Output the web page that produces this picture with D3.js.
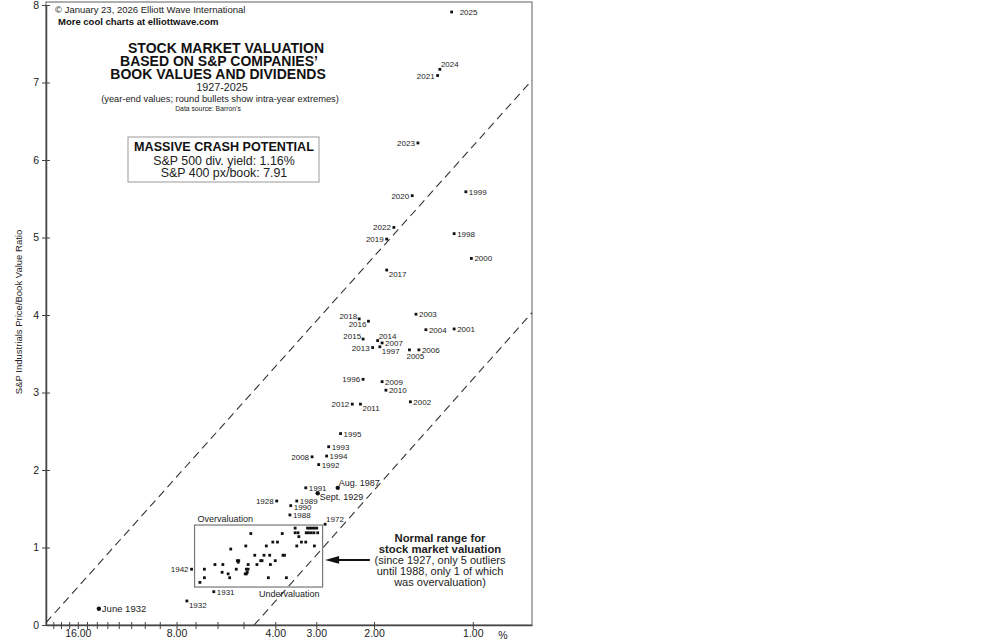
<!DOCTYPE html>
<html>
<head>
    <meta charset="utf-8" />
    <title>Stock Market Valuation</title>
    <style>
        body { margin: 0; background: #fff; }
        #valuation_chart { width: 991px; height: 643px; }
        svg text { font-family: "Liberation Sans", Arial, sans-serif; }
    </style>
</head>
<body>
    <div id="valuation_chart"></div>
    <script type="text/javascript" src="https://cdnjs.cloudflare.com/ajax/libs/d3/7.8.5/d3.min.js"></script>
    <script>
        // labelled points (year-end values; three intra-year extremes drawn as round bullets)
        var pointLabels = ["2025", "2024", "2021", "2023", "2020", "1999", "2022", "2019", "1998", "2000",
            "2017", "2018", "2016", "2003", "2004", "2001", "2015", "2014", "2007", "2013",
            "1997", "2005", "2006", "1996", "2009", "2010", "2012", "2011", "2002", "1995",
            "1993", "1994", "2008", "1992", "1991", "Aug. 1987", "Sept. 1929", "1928", "1989", "1990",
            "1988", "1972", "1942", "1932", "1931", "June 1932"]
        var pointYields = [1.16, 1.26, 1.28, 1.47, 1.53, 1.05, 1.74, 1.83, 1.14, 1.01,
            1.83, 2.22, 2.08, 1.49, 1.39, 1.14, 2.16, 1.95, 1.89, 2.02,
            1.92, 1.56, 1.46, 2.16, 1.89, 1.84, 2.33, 2.20, 1.55, 2.53,
            2.75, 2.79, 3.09, 2.95, 3.23, 2.58, 2.97, 3.96, 3.44, 3.59,
            3.61, 2.82, 7.20, 7.44, 6.16, 13.8]
        var pointRatios = [7.91, 7.17, 7.09, 6.22, 5.54, 5.59, 5.13, 4.98, 5.05, 4.73,
            4.58, 3.95, 3.92, 4.01, 3.81, 3.82, 3.69, 3.67, 3.64, 3.58,
            3.59, 3.55, 3.55, 3.17, 3.14, 3.03, 2.85, 2.85, 2.88, 2.47,
            2.30, 2.18, 2.17, 2.07, 1.77, 1.77, 1.70, 1.60, 1.60, 1.54,
            1.42, 1.30, 0.72, 0.31, 0.43, 0.21]
        var intraYear = ["Aug. 1987", "Sept. 1929", "June 1932"]

        // unlabelled year-end values inside the normal range box
        var boxYields = [3.48, 3.19, 3.14, 3.09, 3.04, 2.99, 3.48, 3.41, 3.22, 3.17, 3.11, 3.05, 2.97,
            4.75, 3.81, 3.39, 4.07, 3.94, 3.33, 3.23, 4.92, 4.26, 3.44, 3.04, 5.47,
            4.62, 4.33, 4.16, 3.79, 3.75, 5.22, 5.17, 4.43, 4.39, 4.00, 5.19,
            6.11, 5.78, 4.84, 4.55, 4.14, 6.58, 5.26, 4.90, 4.84, 5.81, 4.87, 4.90,
            5.57, 4.94, 6.58, 5.51, 4.20, 3.70, 6.79]
        var boxRatios = [1.25, 1.25, 1.25, 1.25, 1.25, 1.25, 1.19, 1.19, 1.19, 1.19, 1.19, 1.19, 1.19,
            1.18, 1.18, 1.14, 1.07, 1.07, 1.07, 1.07, 1.02, 1.02, 1.02, 1.02, 0.98,
            0.90, 0.90, 0.90, 0.90, 0.90, 0.83, 0.83, 0.83, 0.83, 0.83, 0.81,
            0.78, 0.78, 0.78, 0.78, 0.78, 0.72, 0.72, 0.72, 0.72, 0.68, 0.68, 0.66,
            0.66, 0.66, 0.61, 0.61, 0.61, 0.61, 0.55]

        // dashed guides, [yield, ratio] end points
        var upperGuide = [[20, 0.03], [0.66, 7.03]]
        var lowerGuide = [[4.64, 0], [0.66, 4.03]]

        // normal range box and arrow, in data units
        var normalYields = [7.05, 2.87]
        var normalRatios = [0.49, 1.29]
        var arrowYields = [2.06, 2.82]
        var arrowRatio = 0.84

        var xTickValues = d3.range(1, 20)
        var xTickLabels = [16, 8, 4, 3, 2, 1]
        var yTickValues = [0, 1, 2, 3, 4, 5, 6, 7, 8]

        // label placement around each dot
        var labelSide = {
            "2025": "r2", "2021": "l", "2023": "l", "2020": "l", "2022": "l", "2019": "l",
            "2017": "rb", "2018": "la", "2016": "lb", "2015": "la", "2014": "ra", "2013": "l",
            "1997": "rb", "2005": "b", "1996": "l", "2012": "l", "2011": "rb", "2008": "l",
            "Aug. 1987": "ra", "Sept. 1929": "rb", "1928": "l", "1990": "rs", "1972": "ra",
            "1942": "l", "1932": "rb", "2024": "ra"
        }
        var sides = {
            r: { dx: 3, dy: 3, anchor: "start" },
            r2: { dx: 8, dy: 3, anchor: "start" },
            rs: { dx: 3, dy: 4.5, anchor: "start" },
            l: { dx: -3, dy: 3, anchor: "end" },
            ra: { dx: 1, dy: -2, anchor: "start" },
            rb: { dx: 2, dy: 7, anchor: "start" },
            la: { dx: -2, dy: 0, anchor: "end" },
            lb: { dx: -2, dy: 6, anchor: "end" },
            b: { dx: -3, dy: 9, anchor: "start" }
        }

        var width = 991, height = 643
        var svg = d3.select("#valuation_chart")
            .append("svg")
            .attr("width", width)
            .attr("height", height)

        var x = d3.scaleLog().domain([20, 0.66]).range([46, 532])
        var y = d3.scaleLinear().domain([0, 8]).range([625, 5])

        // frame
        svg.append("rect")
            .attr("x", x(20)).attr("y", 2)
            .attr("width", x(0.66) - x(20)).attr("height", y(0) - 2)
            .attr("fill", "none").attr("stroke", "#7a7a7a").attr("stroke-width", 1.2)

        // axes
        var xAxis = d3.axisBottom(x)
            .tickValues(xTickValues)
            .tickSizeInner(0).tickSizeOuter(0)
            .tickFormat(function (d) { return xTickLabels.indexOf(d) >= 0 ? d3.format(".2f")(d) : "" })
        var gx = svg.append("g").attr("transform", "translate(0," + y(0) + ")").call(xAxis)
        gx.select(".domain").attr("stroke", "#444").attr("stroke-width", 1.5)
        gx.selectAll(".tick line").attr("y1", -3).attr("y2", 4).attr("stroke", "#444")
        gx.selectAll(".tick text").attr("y", 5).attr("font-size", "10.5px").attr("fill", "#222")
        svg.append("text").attr("x", 503).attr("y", 638.5)
            .attr("text-anchor", "middle").attr("font-size", "10.5px").attr("fill", "#222").text("%")

        var yAxis = d3.axisLeft(y)
            .tickValues(yTickValues)
            .tickSizeInner(0).tickSizeOuter(0).tickPadding(7)
            .tickFormat(d3.format("d"))
        var gy = svg.append("g").attr("transform", "translate(" + x(20) + ",0)").call(yAxis)
        gy.select(".domain").attr("stroke", "#444").attr("stroke-width", 1.5)
        gy.selectAll(".tick line").attr("x1", -4).attr("x2", 4).attr("stroke", "#444")
        gy.selectAll(".tick text").attr("font-size", "10.5px").attr("fill", "#222")

        svg.append("text")
            .attr("transform", "translate(22," + 312 + ") rotate(-90)")
            .attr("text-anchor", "middle").attr("font-size", "9.5px").attr("fill", "#222")
            .text("S&P Industrials Price/Book Value Ratio")

        // dashed guides
        var line = d3.line().x(function (d) { return x(d[0]) }).y(function (d) { return y(d[1]) })
        svg.selectAll(".guide")
            .data([upperGuide, lowerGuide])
            .enter().append("path")
            .attr("class", "guide")
            .attr("d", line)
            .attr("fill", "none").attr("stroke", "#333").attr("stroke-width", 1.1)
            .attr("stroke-dasharray", "8,5")

        // normal range box
        svg.append("rect")
            .attr("x", x(normalYields[0])).attr("y", y(normalRatios[1]))
            .attr("width", x(normalYields[1]) - x(normalYields[0]))
            .attr("height", y(normalRatios[0]) - y(normalRatios[1]))
            .attr("fill", "none").attr("stroke", "#777").attr("stroke-width", 1.2)
        svg.append("text")
            .attr("x", x(normalYields[0]) + 3).attr("y", y(normalRatios[1]) - 3)
            .attr("font-size", "9px").attr("fill", "#222").text("Overvaluation")
        svg.append("text")
            .attr("x", x(normalYields[1]) - 3).attr("y", y(normalRatios[0]) + 10)
            .attr("text-anchor", "end").attr("font-size", "9px").attr("fill", "#222").text("Undervaluation")

        // points inside box
        svg.append("g").selectAll("rect")
            .data(d3.zip(boxYields, boxRatios))
            .enter().append("rect")
            .attr("x", function (d) { return x(d[0]) - 1.4 })
            .attr("y", function (d) { return y(d[1]) - 1.4 })
            .attr("width", 2.8).attr("height", 2.8)
            .attr("fill", "#111")

        // labelled points
        var points = pointLabels.map(function (label, i) {
            return { label: label, yield: pointYields[i], ratio: pointRatios[i] }
        })
        var pg = svg.append("g")
        pg.selectAll("rect")
            .data(points.filter(function (d) { return intraYear.indexOf(d.label) < 0 }))
            .enter().append("rect")
            .attr("x", function (d) { return x(d.yield) - 1.4 })
            .attr("y", function (d) { return y(d.ratio) - 1.4 })
            .attr("width", 2.8).attr("height", 2.8)
            .attr("fill", "#111")
        pg.selectAll("circle")
            .data(points.filter(function (d) { return intraYear.indexOf(d.label) >= 0 }))
            .enter().append("circle")
            .attr("cx", function (d) { return x(d.yield) })
            .attr("cy", function (d) { return y(d.ratio) })
            .attr("r", 2.2)
            .attr("fill", "#111")
        pg.selectAll("text")
            .data(points)
            .enter().append("text")
            .each(function (d) {
                var s = sides[labelSide[d.label] || "r"]
                d3.select(this)
                    .attr("x", x(d.yield) + s.dx)
                    .attr("y", y(d.ratio) + s.dy)
                    .attr("text-anchor", s.anchor)
            })
            .attr("font-size", function (d) {
                if (d.label == "June 1932") return "9.5px"
                return intraYear.indexOf(d.label) >= 0 ? "9px" : "8px"
            })
            .attr("fill", "#222")
            .text(function (d) { return d.label })

        // arrow to the normal range box
        var ax0 = x(arrowYields[0]), ax1 = x(arrowYields[1]), ay = y(arrowRatio)
        svg.append("line")
            .attr("x1", ax0).attr("x2", ax1 + 10).attr("y1", ay).attr("y2", ay)
            .attr("stroke", "#111").attr("stroke-width", 2)
        svg.append("path")
            .attr("d", "M" + ax1 + "," + ay + "L" + (ax1 + 14) + "," + (ay - 3.8) + "L" + (ax1 + 14) + "," + (ay + 3.8) + "Z")
            .attr("fill", "#111")

        var note = svg.append("g").attr("fill", "#222")
        var noteLines = [
            ["Normal range for", true], ["stock market valuation", true],
            ["(since 1927, only 5 outliers", false], ["until 1988, only 1 of which", false],
            ["was overvaluation)", false]]
        noteLines.forEach(function (l, i) {
            note.append("text")
                .attr("x", 440).attr("y", 542 + i * 11.1)
                .attr("text-anchor", "middle")
                .attr("font-size", l[1] ? "11.3px" : "11px")
                .attr("font-weight", l[1] ? "bold" : "normal")
                .text(l[0])
        })

        // header and title
        svg.append("text").attr("x", 55).attr("y", 13).attr("font-size", "9.5px").attr("fill", "#222")
            .text("\u00a9 January 23, 2026 Elliott Wave International")
        svg.append("text").attr("x", 58).attr("y", 24.5).attr("font-size", "9.5px").attr("font-weight", "bold").attr("fill", "#111")
            .text("More cool charts at elliottwave.com")

        var titleLines = [["STOCK MARKET VALUATION", 226], ["BASED ON S&P COMPANIES\u2019", 219], ["BOOK VALUES AND DIVIDENDS", 218]]
        titleLines.forEach(function (t, i) {
            svg.append("text")
                .attr("x", t[1]).attr("y", 52.5 + i * 13.4)
                .attr("text-anchor", "middle").attr("font-size", "14px").attr("font-weight", "bold").attr("fill", "#111")
                .text(t[0])
        })
        svg.append("text").attr("x", 222).attr("y", 91).attr("text-anchor", "middle")
            .attr("font-size", "10.8px").attr("fill", "#222").text("1927-2025")
        svg.append("text").attr("x", 220).attr("y", 102).attr("text-anchor", "middle")
            .attr("font-size", "9.3px").attr("fill", "#222")
            .text("(year-end values; round bullets show intra-year extremes)")
        svg.append("text").attr("x", 208).attr("y", 110.5).attr("text-anchor", "middle")
            .attr("font-size", "6.8px").attr("fill", "#222").text("Data source: Barron\u2019s")

        // crash potential box
        svg.append("rect").attr("x", 128).attr("y", 137).attr("width", 191).attr("height", 45)
            .attr("fill", "#fff").attr("stroke", "#999").attr("stroke-width", 1)
        svg.append("text").attr("x", 224).attr("y", 151).attr("text-anchor", "middle")
            .attr("font-size", "12.6px").attr("font-weight", "bold").attr("fill", "#111").text("MASSIVE CRASH POTENTIAL")
        svg.append("text").attr("x", 224).attr("y", 165).attr("text-anchor", "middle")
            .attr("font-size", "12.4px").attr("fill", "#222").text("S&P 500 div. yield: 1.16%")
        svg.append("text").attr("x", 224).attr("y", 177).attr("text-anchor", "middle")
            .attr("font-size", "12.4px").attr("fill", "#222").text("S&P 400 px/book: 7.91")
    </script>
</body>
</html>
